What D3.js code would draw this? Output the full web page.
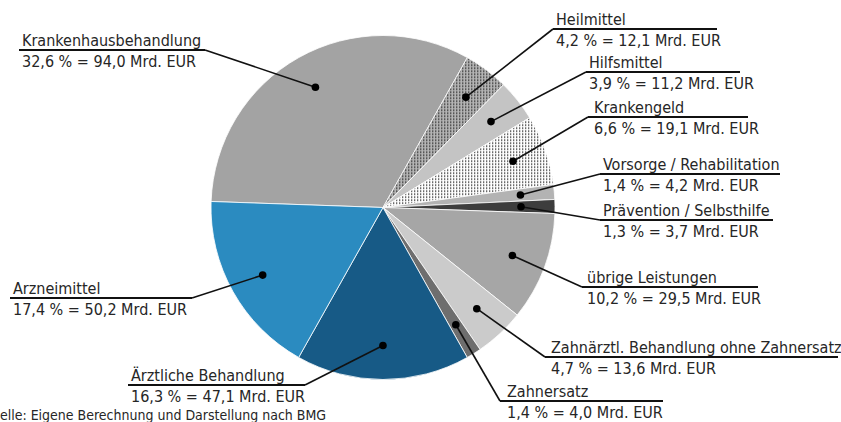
<!DOCTYPE html>
<html>
<head>
<meta charset="utf-8">
<script src="https://cdn.jsdelivr.net/npm/d3@7"></script>
<style>
  body { margin: 0; background: #fff; }
  svg text { font-family: "DejaVu Sans Condensed", "DejaVu Sans", sans-serif; font-stretch: condensed; fill: #262626; }
</style>
</head>
<body>
<script>
const width = 841;
const height = 422;

// categories, shares in %, amounts in Mrd. EUR (clockwise from 9 o'clock)
const categories = ["Krankenhausbehandlung", "Heilmittel", "Hilfsmittel", "Krankengeld",
  "Vorsorge / Rehabilitation", "Prävention / Selbsthilfe", "übrige Leistungen",
  "Zahnärztl. Behandlung ohne Zahnersatz", "Zahnersatz", "Ärztliche Behandlung", "Arzneimittel"];
const shares = [32.6, 4.2, 3.9, 6.6, 1.4, 1.3, 10.2, 4.7, 1.4, 16.3, 17.4];
const amounts = [94.0, 12.1, 11.2, 19.1, 4.2, 3.7, 29.5, 13.6, 4.0, 47.1, 50.2];
const source = "Quelle: Eigene Berechnung und Darstellung nach BMG";

// fills per slice (two are patterns)
const fills = ["#a3a3a3", "url(#dense)", "#c4c4c4", "url(#sparse)", "#b3b3b3", "#3d3d3d",
  "#a6a6a6", "#cbcbcb", "#6e6e6e", "#175a86", "#2b8bc0"];

// label layout: underline y, underline x1..x2, text x, side
const labelLayout = [
  { y: 50, x1: 19, x2: 205, tx: 22, side: "left" },
  { y: 29, x1: 553, x2: 717, tx: 556, side: "right" },
  { y: 72, x1: 586, x2: 740, tx: 589, side: "right" },
  { y: 117, x1: 588, x2: 748, tx: 594, side: "right" },
  { y: 174, x1: 600, x2: 780, tx: 603, side: "right" },
  { y: 220, x1: 600, x2: 773, tx: 603, side: "right" },
  { y: 287, x1: 582, x2: 758, tx: 587, side: "right" },
  { y: 357, x1: 545, x2: 838, tx: 551, side: "right" },
  { y: 401, x1: 500, x2: 663, tx: 507, side: "right" },
  { y: 385, x1: 128, x2: 305, tx: 131, side: "left" },
  { y: 298, x1: 10, x2: 192, tx: 13, side: "left" }
];

const cx = 383, cy = 207.5, radius = 172, dotRadius = 138;
const startAngle = -88 * Math.PI / 180;

const svg = d3.select("body").append("svg")
  .attr("width", width)
  .attr("height", height);

// dot patterns
const defs = svg.append("defs");
const dense = defs.append("pattern")
  .attr("id", "dense")
  .attr("patternUnits", "userSpaceOnUse")
  .attr("width", 3).attr("height", 3);
dense.append("rect").attr("width", 3).attr("height", 3).attr("fill", "#b4b4b4");
dense.append("rect").attr("x", 1).attr("y", 1).attr("width", 1.4).attr("height", 1.4).attr("fill", "#2e2e2e");

const sparse = defs.append("pattern")
  .attr("id", "sparse")
  .attr("patternUnits", "userSpaceOnUse")
  .attr("width", 3).attr("height", 3);
sparse.append("rect").attr("width", 3).attr("height", 3).attr("fill", "#fff");
sparse.append("rect").attr("x", 1).attr("y", 1).attr("width", 1.3).attr("height", 1.3).attr("fill", "#1a1a1a");

const rows = categories.map((name, i) => ({
  name, share: shares[i], amount: amounts[i], fill: fills[i], layout: labelLayout[i]
}));

const pie = d3.pie()
  .value(d => d.share)
  .sort(null)
  .startAngle(startAngle)
  .endAngle(startAngle + 2 * Math.PI);

const arc = d3.arc().innerRadius(0).outerRadius(radius);
const dotArc = d3.arc().innerRadius(dotRadius).outerRadius(dotRadius);

const arcs = pie(rows);

const g = svg.append("g").attr("transform", `translate(${cx},${cy})`);

g.selectAll("path.slice")
  .data(arcs)
  .enter()
  .append("path")
  .attr("class", "slice")
  .attr("d", arc)
  .attr("fill", d => d.data.fill)
  .attr("stroke", "#fff")
  .attr("stroke-width", 0.8);

const fmt = v => d3.format(".1f")(v).replace(".", ",");

// labels: leader line, underline, dot, name, value
const labels = svg.selectAll("g.label")
  .data(arcs)
  .enter()
  .append("g")
  .attr("class", "label");

labels.append("line")
  .attr("x1", d => cx + dotArc.centroid(d)[0])
  .attr("y1", d => cy + dotArc.centroid(d)[1])
  .attr("x2", d => d.data.layout.side === "right" ? d.data.layout.x1 : d.data.layout.x2)
  .attr("y2", d => d.data.layout.y)
  .attr("stroke", "#111")
  .attr("stroke-width", 1.6);

labels.append("line")
  .attr("x1", d => d.data.layout.x1)
  .attr("x2", d => d.data.layout.x2)
  .attr("y1", d => d.data.layout.y)
  .attr("y2", d => d.data.layout.y)
  .attr("stroke", "#111")
  .attr("stroke-width", 1.8);

labels.append("circle")
  .attr("cx", d => cx + dotArc.centroid(d)[0])
  .attr("cy", d => cy + dotArc.centroid(d)[1])
  .attr("r", 3.8)
  .attr("fill", "#000");

labels.append("text")
  .attr("x", d => d.data.layout.tx)
  .attr("y", d => d.data.layout.y - 4.5)
  .attr("font-size", 16)
  .text(d => d.data.name);

labels.append("text")
  .attr("x", d => d.data.layout.tx)
  .attr("y", d => d.data.layout.y + 16.5)
  .attr("font-size", 16)
  .text(d => `${fmt(d.data.share)} % = ${fmt(d.data.amount)} Mrd. EUR`);

// source line, clipped at the left edge as in the original
svg.append("text")
  .attr("x", -18)
  .attr("y", 420)
  .attr("font-size", 14)
  .text(source);
</script>
</body>
</html>
